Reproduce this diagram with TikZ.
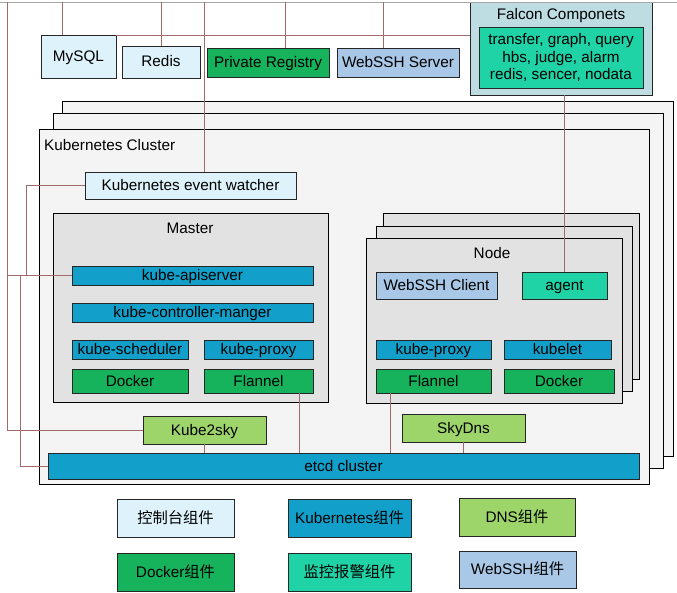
\documentclass[tikz,border=0pt]{standalone}
\usepackage{fontspec}
\setmainfont{Liberation Sans}
\newfontfamily\cjk{Noto Sans CJK SC}
\usetikzlibrary{calc}
\definecolor{cConsole}{HTML}{DDF2FA}
\definecolor{cKube}{HTML}{129FCA}
\definecolor{cDns}{HTML}{9DD56B}
\definecolor{cDocker}{HTML}{16B25C}
\definecolor{cMon}{HTML}{1FD3A6}
\definecolor{cSsh}{HTML}{A9C7E6}
\definecolor{cFalcon}{HTML}{BDDDE2}
\definecolor{cLayer}{HTML}{F4F4F4}
\definecolor{cGroup}{HTML}{E2E2E2}
\definecolor{cLink}{HTML}{A06A6A}
\newcommand\bx[7]{\node[#6, minimum width={(#4)-(#2)}, minimum height={(#5)-(#3)}] (#1) at ({((#2)+(#4))/2},{((#3)+(#5))/2}) {#7};}
\tikzset{
  box/.style={draw=black!85, line width=0.8pt, inner sep=0pt, outer sep=0pt, font=\fontsize{15.3}{17.5}\selectfont, align=center, text height=11pt, text depth=1pt},
  multi/.style={text height=, text depth=},
  console/.style={box, fill=cConsole},
  kube/.style={box, fill=cKube},
  dns/.style={box, fill=cDns},
  docker/.style={box, fill=cDocker},
  mon/.style={box, fill=cMon},
  ssh/.style={box, fill=cSsh},
  falconbox/.style={box, fill=cFalcon},
  layer/.style={box, fill=cLayer, line width=1pt, draw=black},
  group/.style={box, fill=cGroup, line width=0.9pt, draw=black},
  title/.style={inner sep=0pt, font=\fontsize{15.3}{17.5}\selectfont},
  link/.style={draw=cLink, line width=0.8pt},
  topline/.style={draw=black!35, line width=0.8pt},
}
\begin{document}
\begin{tikzpicture}[x=1pt,y=-1pt]
\useasboundingbox (0,0) rectangle (677,593);
% top boxes
\bx{mysql}{41}{35}{116}{78}{console}{MySQL}
\bx{redis}{122}{46}{200}{78}{console}{Redis}
\bx{registry}{207}{48}{329}{77}{docker}{Private Registry}
\bx{webssh}{337}{48}{459}{77}{ssh}{WebSSH Server}
\bx{falcon}{470}{2}{652}{95}{falconbox}{}
\node[title] (falcontitle) at (561,16) {Falcon Componets};
\bx{falconin}{479}{27}{643}{88}{mon,multi}{transfer, graph, query\\hbs, judge, alarm\\redis, sencer, nodata}
% cluster layers
\bx{layerc}{62}{102}{673}{456}{layer}{}
\bx{layerb}{53}{114}{663}{468}{layer}{}
\bx{cluster}{39}{130}{649}{484}{layer}{}
\node[title, anchor=west] (clustertitle) at (44,145) {Kubernetes Cluster};
\bx{watcher}{85}{172}{296}{199}{console}{Kubernetes event watcher}
% master
\bx{master}{53}{213}{328}{402}{group}{}
\node[title] (mastertitle) at (190,228) {Master};
\bx{api}{72}{266}{313}{285}{kube}{kube-apiserver}
\bx{ctrl}{72}{303}{313}{322}{kube}{kube-controller-manger}
\bx{sched}{72}{340}{188}{359}{kube}{kube-scheduler}
\bx{mproxy}{204}{340}{313}{359}{kube}{kube-proxy}
\bx{mdocker}{72}{369}{188}{393}{docker}{Docker}
\bx{mflannel}{204}{369}{313}{393}{docker}{Flannel}
% nodes
\bx{nodec}{383}{213}{639}{379}{group}{}
\bx{nodeb}{376}{226}{632}{391}{group}{}
\bx{node}{366}{238}{622}{403}{group}{}
\node[title] (nodetitle) at (492,253) {Node};
\bx{sshclient}{376}{272}{497}{299}{ssh}{WebSSH Client}
\bx{agent}{522}{272}{607}{299}{mon}{agent}
\bx{nproxy}{376}{340}{491}{359}{kube}{kube-proxy}
\bx{kubelet}{504}{340}{611}{359}{kube}{kubelet}
\bx{nflannel}{376}{369}{491}{393}{docker}{Flannel}
\bx{ndocker}{504}{369}{614}{393}{docker}{Docker}
% dns and etcd
\bx{k2s}{143}{416}{266}{444}{dns}{Kube2sky}
\bx{sky}{402}{414}{525}{442}{dns}{SkyDns}
\bx{etcd}{48}{453}{639}{479}{kube}{etcd cluster}
% legend
\bx{lg1}{117}{499}{234}{537}{console}{\cjk 控制台组件}
\bx{lg2}{288}{499}{411}{537}{kube}{Kubernetes\cjk 组件}
\bx{lg3}{459}{498}{575}{536}{dns}{DNS\cjk 组件}
\bx{lg4}{117}{553}{234}{591}{docker}{Docker\cjk 组件}
\bx{lg5}{288}{553}{411}{591}{mon}{\cjk 监控报警组件}
\bx{lg6}{459}{551}{576}{588}{ssh}{WebSSH\cjk 组件}
% connectors
\coordinate (tl) at (0,2);
\coordinate (tr) at (677,2);
\draw[topline] (tl) -- (tr);
\coordinate (t7) at (7,2);
\coordinate (t62) at (62,2);
\coordinate (t161) at (161,2);
\coordinate (t204) at (204,2);
\coordinate (t285) at (285,2);
\coordinate (t383) at (383,2);
\coordinate (l26) at (26,0);
\coordinate (l20) at (20,0);
\coordinate (x299) at (299,0);
\coordinate (x390) at (390,0);
\draw[link] (t7) |- (k2s.west);
\draw[link] (t62) -- (t62 |- mysql.north);
\draw[link] (t161) -- (redis.north);
\draw[link] (t204) -- (t204 |- watcher.north);
\draw[link] (t285) -- (t285 |- registry.north);
\draw[link] (t383) -- (t383 |- webssh.north);
\draw[link] (mysql.north east) -- (mysql.north east -| falcon.west);
\draw[link] (watcher.west) -| (l26 |- api.west);
\draw[link] (api.west) -- (t7 |- api.west);
\draw[link] (l20 |- api.west) |- (etcd.west);
\draw[link] (mflannel.south -| x299) -- (etcd.north -| x299);
\draw[link] (nflannel.south -| x390) -- (etcd.north -| x390);
\draw[link] (sky.south) -- (sky.south |- etcd.north);
\draw[link] (k2s.south) -- (k2s.south |- etcd.north);
\draw[link] (agent.north) -- (agent.north |- falcon.south);
\end{tikzpicture}
\end{document}
